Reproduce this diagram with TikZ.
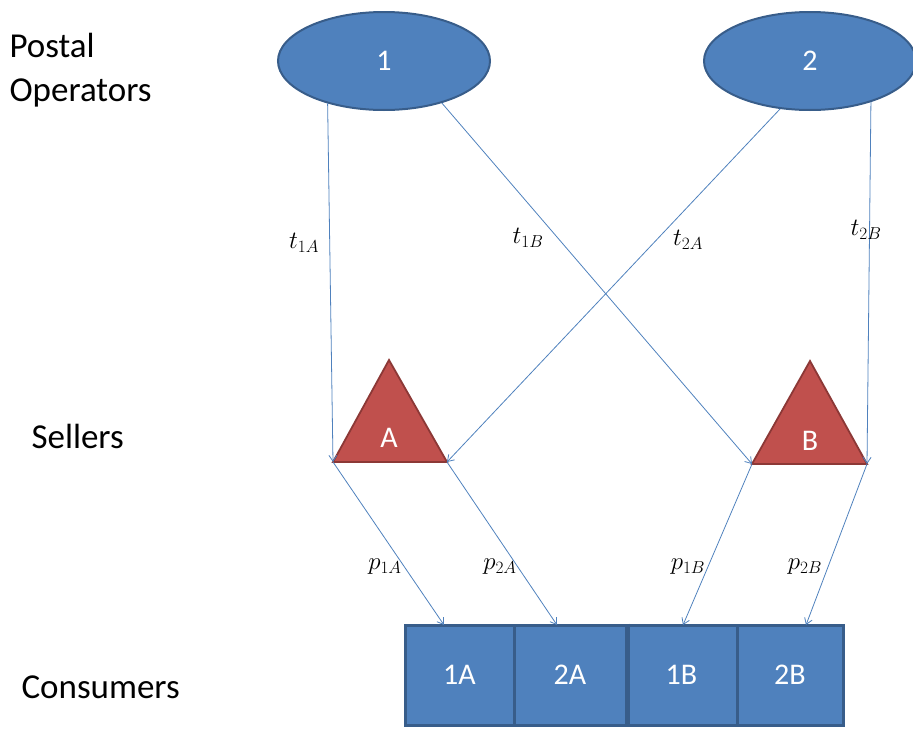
\documentclass[tikz,border=0pt]{standalone}
\usepackage{fontspec}
\setmainfont{Carlito}
\usetikzlibrary{shapes.geometric,arrows.meta,calc}
\definecolor{bluefill}{RGB}{79,129,189}
\definecolor{blueedge}{RGB}{56,93,138}
\definecolor{redfill}{RGB}{192,80,77}
\definecolor{rededge}{RGB}{140,56,54}
\definecolor{linkblue}{RGB}{79,129,189}
\tikzset{
  op/.style={ellipse, fill=bluefill, draw=blueedge, line width=2pt, minimum width=212pt, minimum height=98pt, text=white, font=\fontsize{30}{34}\selectfont},
  tri/.style={fill=redfill, draw=rededge, line width=1.8pt, line join=miter},
  cons/.style={rectangle, fill=bluefill, draw=blueedge, line width=3pt, minimum height=100pt, text=white, font=\fontsize{30}{34}\selectfont, inner sep=0pt},
  side/.style={anchor=west, align=left, font=\fontsize{35}{44}\selectfont},
  link/.style={draw=linkblue, line width=0.8pt, -{Straight Barb[length=6pt,width=8pt]}},
  lab/.style={font=\fontsize{26}{30}\selectfont},
  sellertxt/.style={text=white, font=\fontsize{30}{34}\selectfont}
}
\begin{document}
\begin{tikzpicture}[x=1pt,y=-1pt]
\useasboundingbox (0,0) rectangle (913,731);
% left labels
\node[side] (lpo) at (6,70) {Postal\\Operators};
\node[side] (lsel) at (28,436) {Sellers};
\node[side] (lcon) at (18,687) {Consumers};
% postal operators
\node[op] (e1) at (384,61) {1};
\node[op] (e2) at (810,61) {2};
% sellers
\coordinate (Aa) at (389,360);
\coordinate (Al) at (333,462);
\coordinate (Ar) at (447,462);
\coordinate (Ba) at (810,361);
\coordinate (Bl) at (752,464);
\coordinate (Br) at (867,464);
\filldraw[tri] (Aa) -- (Al) -- (Ar) -- cycle;
\filldraw[tri] (Ba) -- (Bl) -- (Br) -- cycle;
\node[sellertxt] (A) at (389,438) {A};
\node[sellertxt] (B) at (810,441) {B};
% consumers
\node[cons, minimum width=109pt] (c1A) at (459.5,675) {1A};
\node[cons, minimum width=112pt] (c2A) at (570,675) {2A};
\node[cons, minimum width=111pt] (c1B) at (681.5,675) {1B};
\node[cons, minimum width=106pt] (c2B) at (790,675) {2B};
\draw[draw=blueedge, line width=4.5pt] (c2A.north east) -- (c2A.south east);
\coordinate (t1A) at (444,625);
\coordinate (t2A) at (557,625);
\coordinate (t1B) at (683,625);
\coordinate (t2B) at (806,625);
% postal links
\draw[link] (e1.217) -- (Al);
\draw[link] (e1.-36) -- (Bl);
\draw[link] (e2.238) -- (Ar);
\draw[link] (e2.-34) -- (Br);
% seller links
\draw[link] (Al) -- (t1A);
\draw[link] (Ar) -- (t2A);
\draw[link] (Bl) -- (t1B);
\draw[link] (Br) -- (t2B);
% labels
\node[lab] (l1) at (304,243) {$t_{1A}$};
\node[lab] (l2) at (528,238) {$t_{1B}$};
\node[lab] (l3) at (688,240) {$t_{2A}$};
\node[lab] (l4) at (866,230) {$t_{2B}$};
\node[lab] (l5) at (385,567) {$p_{1A}$};
\node[lab] (l6) at (500,567) {$p_{2A}$};
\node[lab] (l7) at (688,567) {$p_{1B}$};
\node[lab] (l8) at (805,567) {$p_{2B}$};
\end{tikzpicture}
\end{document}
